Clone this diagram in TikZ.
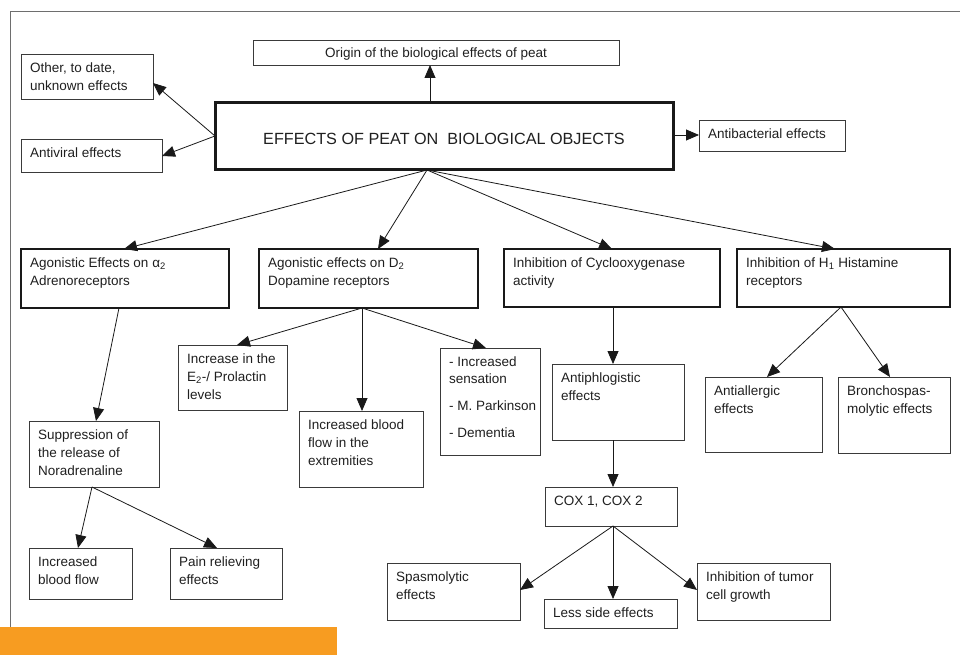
\documentclass[tikz,border=0pt]{standalone}
\usepackage{fontspec}
\setmainfont{Liberation Sans}
\usetikzlibrary{arrows.meta,calc}
\definecolor{orangebar}{HTML}{F79C21}
\definecolor{framec}{HTML}{6E6E6E}
\definecolor{boxc}{HTML}{3A3A3A}
\newcommand\bx[7]{%
  \node[#6, anchor=north west, minimum width={#4-#2}, minimum height={#5-#3}] (#1) at (#2,#3) {};
  \node[txt] (#1t) at ($(#1.north west)+(9,8.5)$) {#7};}
\begin{document}
\begin{tikzpicture}[x=1pt,y=-1pt,
  txt/.style={anchor=north west, inner sep=0pt, align=left, font=\fontsize{13.5}{18}\selectfont, text=black!88},
  thinbox/.style={draw=boxc, line width=0.9pt, inner sep=0pt, outer sep=0pt},
  thickbox/.style={draw=black!90, line width=2.3pt, inner sep=0pt, outer sep=0pt},
  mainbox/.style={draw=black!90, line width=3pt, inner sep=0pt, outer sep=0pt},
  arr/.style={draw=black!90, line width=0.8pt, -{Triangle[length=13pt,width=11pt]}}]
\useasboundingbox (0,0) rectangle (960,655);
% frame and orange bar
\draw[framec, line width=1pt] (960,11.5) -- (10,11.5) -- (10,627);
\fill[orangebar] (0,627) rectangle (337,655);

% top level
\node[mainbox, anchor=north west, minimum width=458, minimum height=67] (main) at (215,103) {};
\node[inner sep=0pt, font=\fontsize{16.2}{20}\selectfont, text=black!88] (maint) at (444,139) {EFFECTS OF PEAT ON~~BIOLOGICAL OBJECTS};
\node[thinbox, anchor=north west, minimum width=366, minimum height=25] (origin) at (253,40) {};
\node[txt, anchor=north] (origint) at (436,48) {Origin of the biological effects of peat};
\bx{other}{21}{54}{153}{99}{thinbox}{Other, to date,\\unknown effects}
\bx{antiviral}{21}{139}{162}{172}{thinbox}{Antiviral effects}
\bx{antibac}{699}{120}{845}{151}{thinbox}{Antibacterial effects}

% categories
\bx{cat1}{21}{249}{229}{308}{thickbox}{Agonistic Effects on α\textsubscript{2}\\Adrenoreceptors}
\bx{cat2}{259}{249}{478}{308}{thickbox}{Agonistic effects on D\textsubscript{2}\\Dopamine receptors}
\bx{cat3}{504}{249}{720}{307}{thickbox}{Inhibition of Cyclooxygenase\\activity}
\bx{cat4}{737}{249}{950}{307}{thickbox}{Inhibition of H\textsubscript{1} Histamine\\receptors}

% branch 1
\bx{supp}{29}{421}{159}{487}{thinbox}{Suppression of\\the release of\\Noradrenaline}
\bx{ibf}{29}{548}{132}{599}{thinbox}{Increased\\blood flow}
\bx{pain}{170}{548}{282}{599}{thinbox}{Pain relieving\\effects}

% branch 2
\bx{etwo}{178}{345}{287}{410}{thinbox}{Increase in the\\E\textsubscript{2}-/ Prolactin\\levels}
\bx{extr}{299}{411}{423}{487}{thinbox}{Increased blood\\flow in the\\extremities}
\node[thinbox, anchor=north west, minimum width=100, minimum height=107] (sens) at (440,348) {};
\node[txt, font=\fontsize{13.5}{17}\selectfont] (senst) at ($(sens.north west)+(9,9)$) {- Increased\\sensation\\[10pt]- M. Parkinson\\[10pt]- Dementia};

% branch 3
\bx{antiph}{552}{364}{684}{440}{thinbox}{Antiphlogistic\\effects}
\bx{cox}{545}{487}{677}{526}{thinbox}{COX 1, COX 2}
\bx{spasm}{387}{563}{520}{620}{thinbox}{Spasmolytic\\effects}
\bx{less}{544}{599}{677}{628}{thinbox}{Less side effects}
\bx{tumor}{697}{563}{830}{620}{thinbox}{Inhibition of tumor\\cell growth}

% branch 4
\bx{allerg}{705}{377}{822}{452}{thinbox}{Antiallergic\\effects}
\bx{broncho}{838}{377}{950}{453}{thinbox}{Bronchospas-\\molytic effects}

% connectors from main
\draw[arr] (main.north -| 430,0) -- (origin.south -| 430,0);
\draw[arr] (main.west |- 0,136) -- (other.east |- 0,83);
\draw[arr] (main.west |- 0,136) -- (antiviral.east |- 0,156);
\draw[arr] (main.east |- 0,135) -- (antibac.west |- 0,135);
\draw[arr] (main.south -| 427,0) -- (cat1.north -| 124,0);
\draw[arr] (main.south -| 427,0) -- (cat2.north -| 378,0);
\draw[arr] (main.south -| 427,0) -- (cat3.north -| 612,0);
\draw[arr] (main.south -| 427,0) -- (cat4.north -| 835,0);
% branch 1
\draw[arr] (cat1.south -| 119,0) -- (supp.north -| 96,0);
\draw[arr] (supp.south -| 92,0) -- (ibf.north -| 78,0);
\draw[arr] (supp.south -| 92,0) -- (pain.north -| 217,0);
% branch 2
\draw[arr] (cat2.south -| 362,0) -- (etwo.north -| 237,0);
\draw[arr] (cat2.south -| 362,0) -- (extr.north -| 362,0);
\draw[arr] (cat2.south -| 362,0) -- (sens.north -| 486,0);
% branch 3
\draw[arr] (cat3.south -| 613,0) -- (antiph.north -| 613,0);
\draw[arr] (antiph.south -| 613,0) -- (cox.north -| 613,0);
\draw[arr] (cox.south -| 613,0) -- (spasm.east |- 0,590);
\draw[arr] (cox.south -| 613,0) -- (less.north -| 613,0);
\draw[arr] (cox.south -| 613,0) -- (tumor.west |- 0,590);
% branch 4
\draw[arr] (cat4.south -| 841,0) -- (allerg.north -| 767,0);
\draw[arr] (cat4.south -| 841,0) -- (broncho.north -| 890,0);
\end{tikzpicture}
\end{document}
